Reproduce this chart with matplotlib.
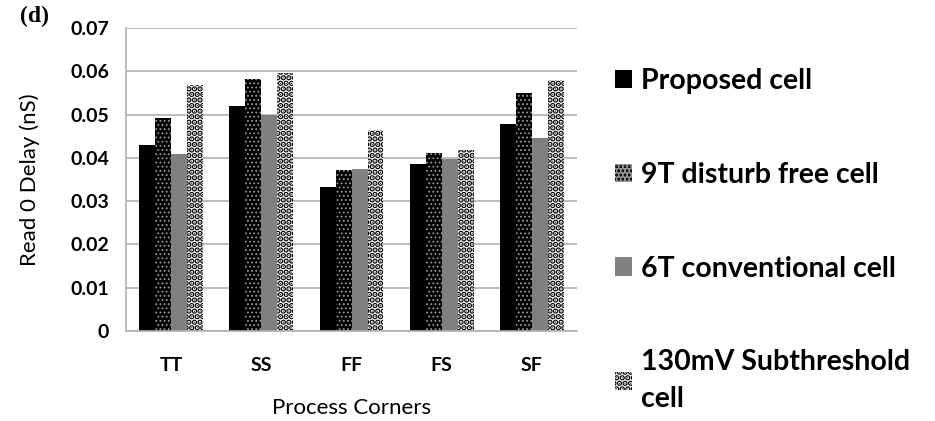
import numpy as np
import matplotlib.pyplot as plt
from matplotlib.patches import Patch

corners = ['TT', 'SS', 'FF', 'FS', 'SF']
proposed = [0.0429, 0.0520, 0.0332, 0.0385, 0.0478]
disturb_free_9t = [0.0492, 0.0583, 0.0372, 0.0412, 0.0550]
conventional_6t = [0.0409, 0.0500, 0.0375, 0.0397, 0.0447]
subthreshold_130mv = [0.0569, 0.0595, 0.0464, 0.0418, 0.0581]
labels = ['Proposed cell', '9T disturb free cell', '6T conventional cell',
          '130mV Subthreshold\ncell']

font = 'Lato'

fig = plt.figure(figsize=(9.35, 4.21), dpi=100)
ax = fig.add_axes([0.1348, 0.2138, 0.4824, 0.7197])

x = np.arange(len(corners))
w = 0.177
ax.bar(x - 1.5 * w, proposed, w, color='black', linewidth=0)
plt.rcParams['hatch.linewidth'] = 0.8
ax.bar(x - 0.5 * w, disturb_free_9t, w, color='black', edgecolor='#9a9a9a',
       hatch='....', linewidth=0)
ax.bar(x + 0.5 * w, conventional_6t, w, color='#808080', linewidth=0)
plt.rcParams['hatch.linewidth'] = 2.9
ax.bar(x + 1.5 * w, subthreshold_130mv, w, color='white', edgecolor='black',
       hatch='...', linewidth=0)

ax.set_xlim(-0.5, 4.5)
ax.set_ylim(0, 0.07)
ax.set_yticks(np.arange(0, 0.071, 0.01))
ax.set_yticklabels(['0', '0.01', '0.02', '0.03', '0.04', '0.05', '0.06', '0.07'],
                   fontsize=14, fontweight='bold', family=font)
ax.set_xticks(x)
ax.set_xticklabels(corners, fontsize=14, fontweight='bold', family=font)
ax.tick_params(axis='both', length=0)
ax.tick_params(axis='x', pad=19)
ax.tick_params(axis='y', pad=12)
ax.yaxis.grid(True, color='#b0b0b0', linewidth=1.2)
ax.set_axisbelow(True)
for s in ['top', 'right']:
    ax.spines[s].set_visible(False)
ax.spines['left'].set_color('#b0b0b0')
ax.spines['bottom'].set_color('#b0b0b0')
ax.spines['left'].set_linewidth(1.2)
ax.spines['bottom'].set_linewidth(1.2)

ax.set_ylabel('Read 0 Delay (nS)', fontsize=16, family=font, labelpad=22)
ax.set_xlabel('Process Corners', fontsize=16, family=font, labelpad=17)

fig.text(0.021, 0.985, '(d)', fontsize=17, fontweight='bold',
         family='Liberation Serif', va='top')

handles = [
    Patch(facecolor='black', linewidth=0),
    Patch(facecolor='black', edgecolor='#9a9a9a', hatch='....', linewidth=0),
    Patch(facecolor='#808080', linewidth=0),
    Patch(facecolor='white', edgecolor='black', hatch='...', linewidth=0),
]
leg = fig.legend(handles, labels, loc='upper left', bbox_to_anchor=(0.642, 0.872),
                 frameon=False, prop={'family': font, 'weight': 'bold', 'size': 20.5},
                 handlelength=0.63, handleheight=0.63, handletextpad=0.3,
                 labelspacing=2.38, borderpad=0)
for t in leg.get_texts():
    t.set_linespacing(1.5)

fig.savefig('out.png', dpi=100)
